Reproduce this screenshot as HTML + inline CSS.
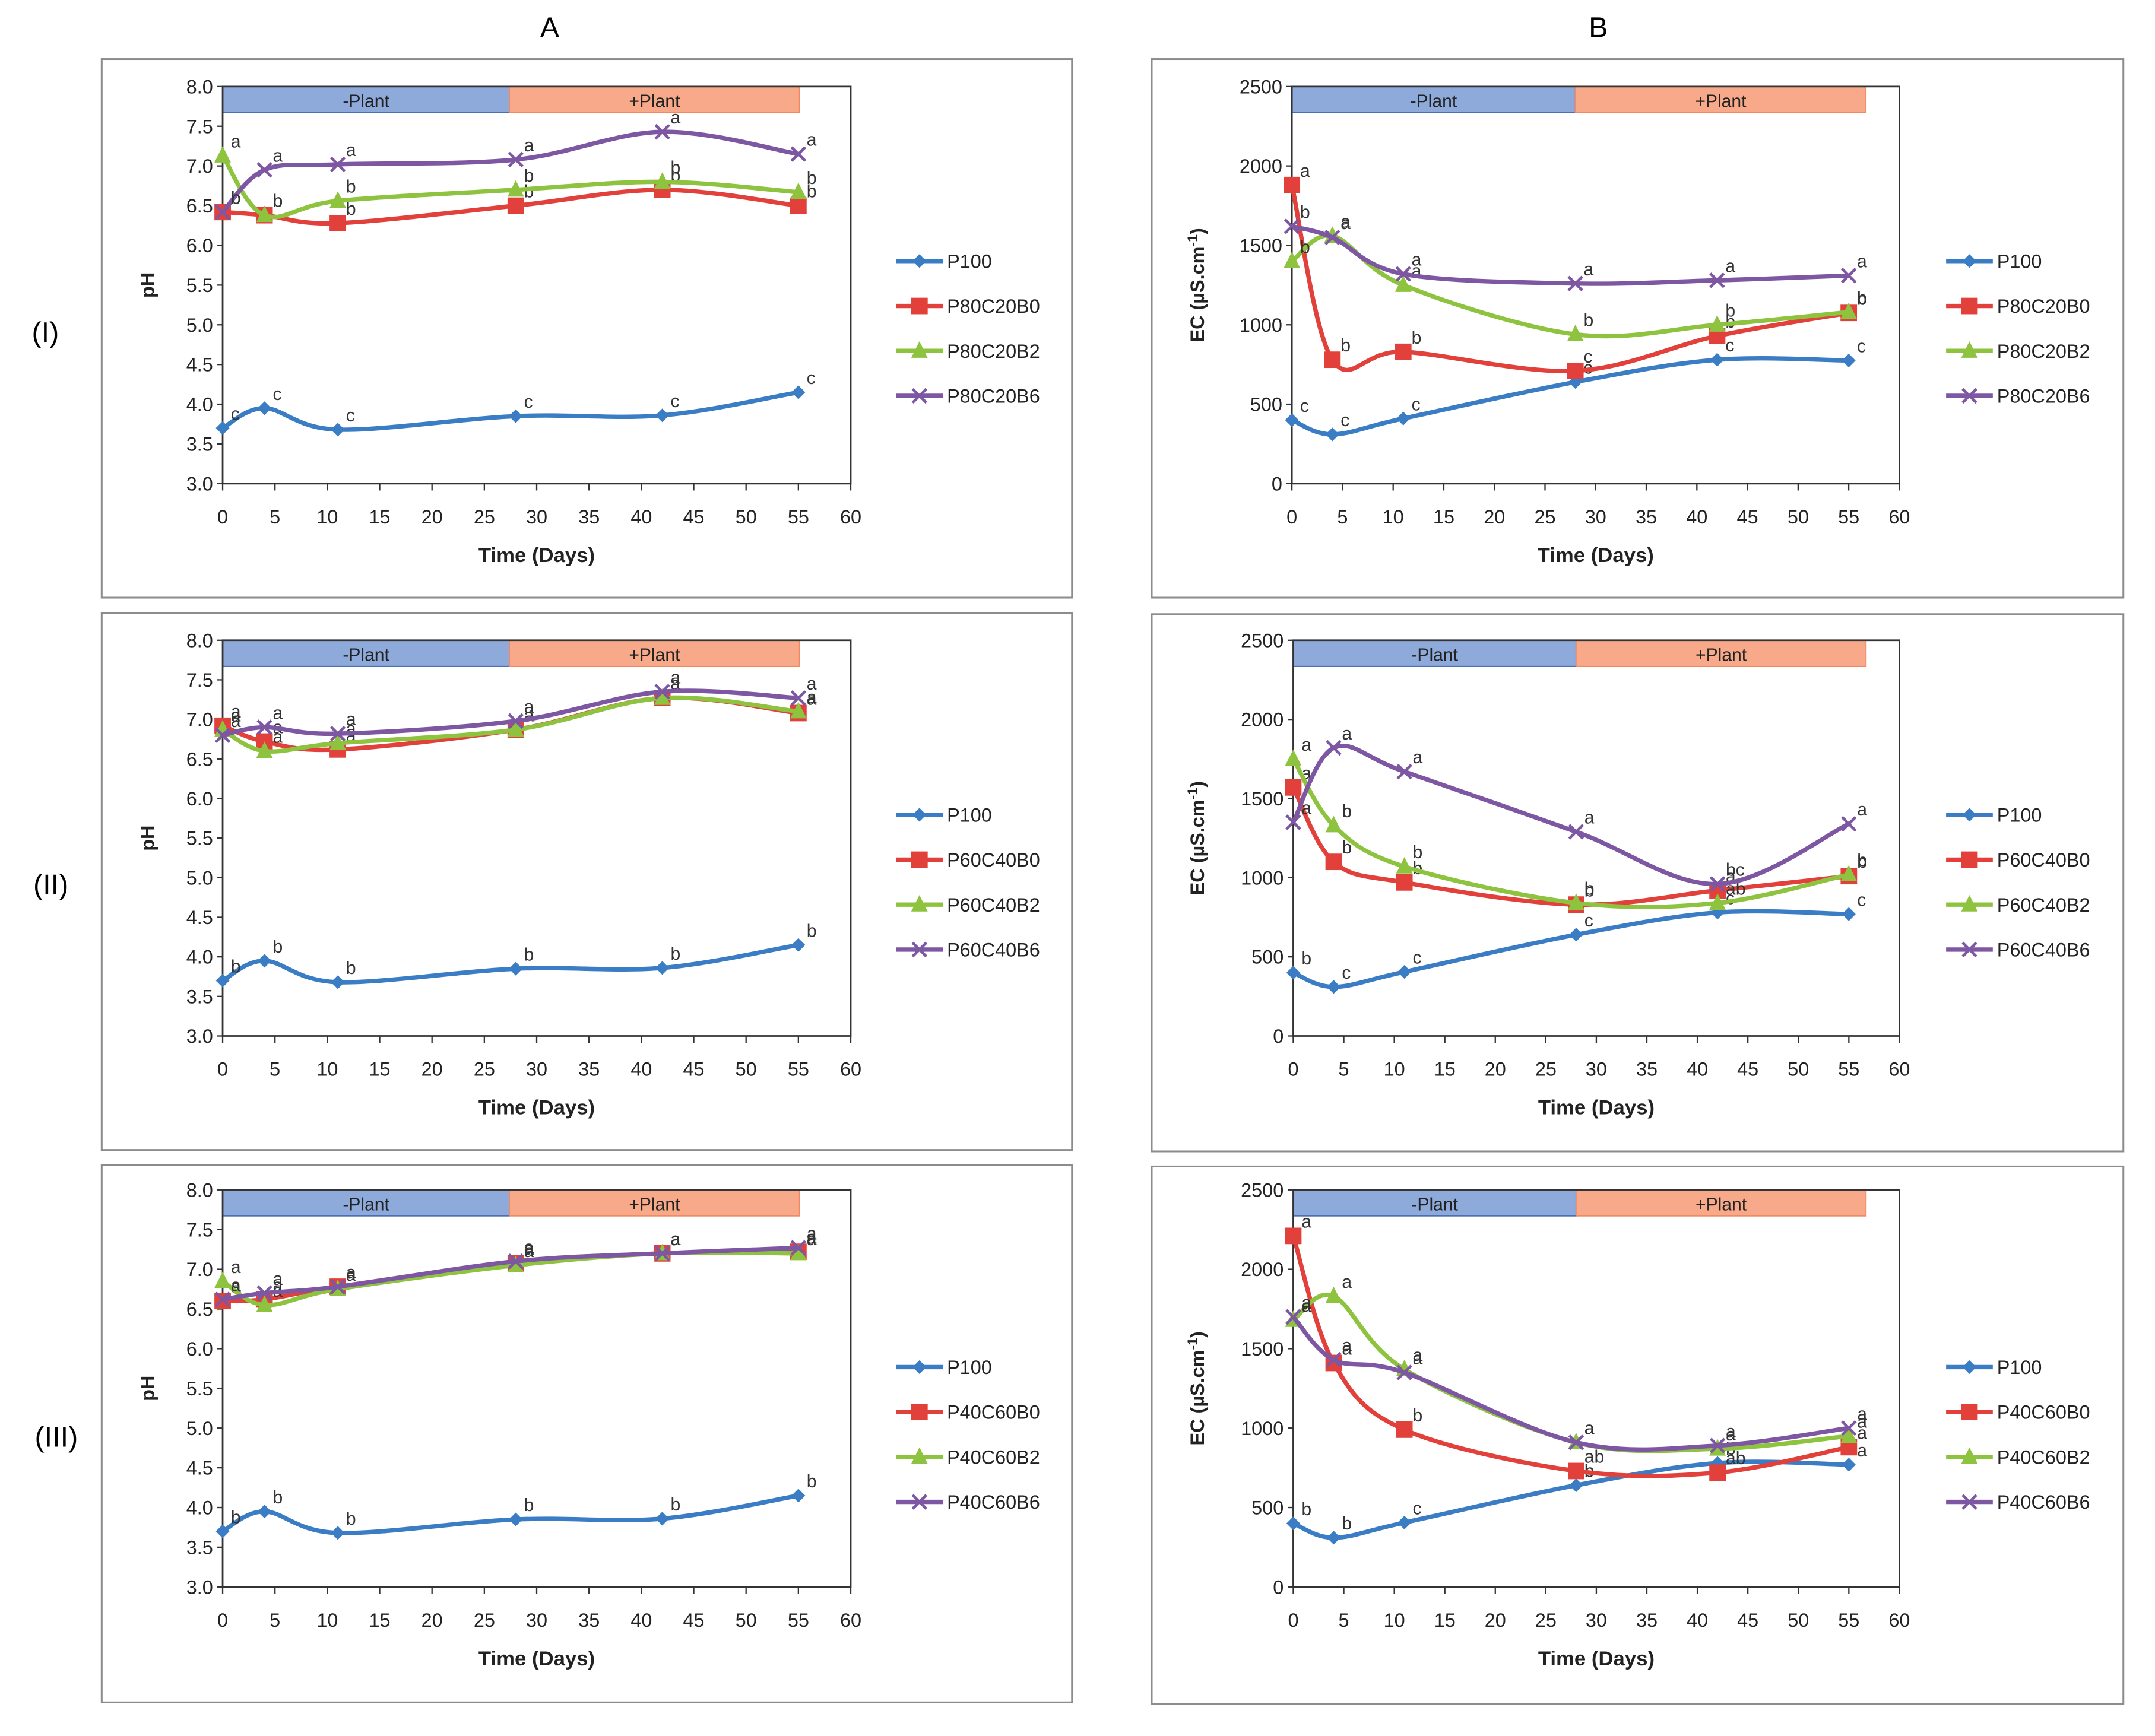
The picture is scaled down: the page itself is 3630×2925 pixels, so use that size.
<!DOCTYPE html>
<html><head><meta charset="utf-8">
<style>
html,body{margin:0;padding:0;background:#fff;}
svg{display:block;font-family:"Liberation Sans",Arial,sans-serif;}
</style></head>
<body>
<svg id="fig" width="3630" height="2925" viewBox="0 0 1568 1263.5" preserveAspectRatio="none" xmlns="http://www.w3.org/2000/svg">
<text x="400" y="27" font-size="21" text-anchor="middle">A</text>
<text x="1163" y="27" font-size="21" text-anchor="middle">B</text>
<text x="33" y="249" font-size="21" text-anchor="middle">(I)</text>
<text x="37" y="651" font-size="21" text-anchor="middle">(II)</text>
<text x="41" y="1053" font-size="21" text-anchor="middle">(III)</text>
</svg>
<script>
const days = [0, 4, 11, 28, 42, 55];
const phTicks = ["3.0","3.5","4.0","4.5","5.0","5.5","6.0","6.5","7.0","7.5","8.0"];
const ecTicks = ["0","500","1000","1500","2000","2500"];
const xTicks = [0,5,10,15,20,25,30,35,40,45,50,55,60];

const aI_P100 = [3.7, 3.95, 3.68, 3.85, 3.86, 4.15];
const aI_B0 = [6.42, 6.38, 6.28, 6.5, 6.7, 6.5];
const aI_B2 = [7.13, 6.38, 6.56, 6.7, 6.8, 6.67];
const aI_B6 = [6.42, 6.95, 7.02, 7.08, 7.43, 7.15];
const bI_P100 = [400, 310, 410, 640, 780, 775];
const bI_B0 = [1880, 780, 830, 710, 930, 1075];
const bI_B2 = [1400, 1560, 1250, 940, 1000, 1080];
const bI_B6 = [1620, 1550, 1320, 1260, 1280, 1310];
const aII_P100 = [3.7, 3.95, 3.68, 3.85, 3.86, 4.15];
const aII_B0 = [6.92, 6.72, 6.62, 6.87, 7.27, 7.08];
const aII_B2 = [6.87, 6.6, 6.7, 6.87, 7.27, 7.1];
const aII_B6 = [6.8, 6.9, 6.82, 6.98, 7.35, 7.27];
const bII_P100 = [400, 310, 405, 640, 780, 770];
const bII_B0 = [1570, 1100, 970, 830, 920, 1010];
const bII_B2 = [1750, 1330, 1070, 840, 840, 1020];
const bII_B6 = [1350, 1820, 1670, 1290, 960, 1340];
const aIII_P100 = [3.7, 3.95, 3.68, 3.85, 3.86, 4.15];
const aIII_B0 = [6.6, 6.62, 6.78, 7.08, 7.2, 7.22];
const aIII_B2 = [6.85, 6.55, 6.75, 7.05, 7.2, 7.2];
const aIII_B6 = [6.62, 6.7, 6.78, 7.1, 7.2, 7.27];
const bIII_P100 = [400, 310, 405, 640, 780, 770];
const bIII_B0 = [2210, 1410, 990, 730, 720, 880];
const bIII_B2 = [1680, 1830, 1370, 910, 870, 950];
const bIII_B6 = [1700, 1430, 1350, 910, 890, 1000];

const aI_letters = [["c","c","c","c","c","c"],["b","b","b","b","b","b"],["a","b","b","b","b","b"],["b","a","a","a","a","a"]];
const bI_letters = [["c","c","c","c","c","c"],["a","b","b","c","b","b"],["b","a","a","b","b","b"],["b","a","a","a","a","a"]];
const aII_letters = [["b","b","b","b","b","b"],["a","a","a","a","a","a"],["a","a","a","a","a","a"],["a","a","a","a","a","a"]];
const bII_letters = [["b","c","c","c","c","c"],["a","b","b","b","a","b"],["a","b","b","b","ab","b"],["a","a","a","a","bc","a"]];
const aIII_letters = [["b","b","b","b","b","b"],["a","a","a","a","a","a"],["a","a","a","a","a","a"],["a","a","a","a","a","a"]];
const bIII_letters = [["b","b","c","b","b","a"],["a","a","b","ab","ab","a"],["a","a","a","a","a","a"],["a","a","a","a","a","a"]];

const NS = "http://www.w3.org/2000/svg";
const svg = document.getElementById("fig");
const colors = ["#3a7dc4","#e2403a","#8dc33f","#7e57a3"];
const markers = ["diamond","square","triangle","x"];

function mk(tag, attrs, parent, txt){
  const e = document.createElementNS(NS, tag);
  for (const k in attrs) e.setAttribute(k, attrs[k]);
  if (txt !== undefined) e.textContent = txt;
  parent.appendChild(e);
  return e;
}
function smoothPath(pts){
  let d = "M" + pts[0][0] + "," + pts[0][1];
  for (let i = 0; i < pts.length - 1; i++){
    const p0 = pts[i-1] || pts[i], p1 = pts[i], p2 = pts[i+1], p3 = pts[i+2] || p2;
    const t = 1/6;
    const c1 = [p1[0] + (p2[0]-p0[0])*t, p1[1] + (p2[1]-p0[1])*t];
    const c2 = [p2[0] - (p3[0]-p1[0])*t, p2[1] - (p3[1]-p1[1])*t];
    d += " C" + c1[0] + "," + c1[1] + " " + c2[0] + "," + c2[1] + " " + p2[0] + "," + p2[1];
  }
  return d;
}
function drawMarker(g, type, x, y, c){
  let m;
  if (type === "diamond") m = mk("polygon", {points:`${x},${y-5} ${x+5},${y} ${x},${y+5} ${x-5},${y}`, fill:c}, g);
  else if (type === "square") m = mk("rect", {x:x-6, y:y-6, width:12, height:12, fill:c}, g);
  else if (type === "triangle") m = mk("polygon", {points:`${x},${y-7} ${x+6},${y+5} ${x-6},${y+5}`, fill:c}, g);
  else m = mk("path", {d:`M${x-5},${y-5}L${x+5},${y+5}M${x-5},${y+5}L${x+5},${y-5}`, stroke:c, "stroke-width":2, fill:"none"}, g);
  
  
  return m;
}

function panel(cfg){
  const g = mk("g", {}, svg);
  
  
  const box = mk("rect", {x:cfg.bx, y:cfg.by, width:cfg.bw, height:cfg.bh, fill:"#fff", stroke:"#8c8c8c", "stroke-width":1.3}, g);
  
  
  const X = d => cfg.x0 + (d/60)*(cfg.x1-cfg.x0);
  const Y = v => cfg.yb + (v-cfg.ymin)/(cfg.ymax-cfg.ymin)*(cfg.yt-cfg.yb);
  const bm = cfg.bandMid, be = cfg.bandEnd;
  const b1 = mk("rect", {x:X(0), y:cfg.yt, width:X(bm)-X(0), height:19, fill:"#8eaadb", stroke:"#4a6fb5", "stroke-width":0.8}, g);
  
  
  const b2 = mk("rect", {x:X(bm), y:cfg.yt, width:X(be)-X(bm), height:19, fill:"#f8a98a", stroke:"#f08a64", "stroke-width":0.8}, g);
  
  
  const t1 = mk("text", {x:(X(0)+X(bm))/2, y:cfg.yt+15, "font-size":13, "text-anchor":"middle", fill:"#222"}, g, "-Plant");
  
  
  const t2 = mk("text", {x:(X(bm)+X(be))/2, y:cfg.yt+15, "font-size":13, "text-anchor":"middle", fill:"#222"}, g, "+Plant");
  
  
  const fr = mk("path", {d:`M${X(0)},${cfg.yt}H${X(60)}V${cfg.yb}H${X(0)}Z`, fill:"none", stroke:"#333", "stroke-width":1.2}, g);
  
  
  cfg.ticks.forEach(t => {
    const v = parseFloat(t), y = Y(v);
    mk("line", {x1:X(0)-4, x2:X(0), y1:y, y2:y, stroke:"#333"}, g);
    const tl = mk("text", {x:X(0)-7, y:y+5, "font-size":14, "text-anchor":"end", fill:"#222"}, g, t);
    
    
  });
  xTicks.forEach(d => {
    mk("line", {x1:X(d), x2:X(d), y1:cfg.yb, y2:cfg.yb+5, stroke:"#333"}, g);
    const tl = mk("text", {x:X(d), y:cfg.yb+29, "font-size":14, "text-anchor":"middle", fill:"#222"}, g, String(d));
    
    
  });
  const xt = mk("text", {x:(X(0)+X(60))/2, y:cfg.yb+57, "font-size":15, "font-weight":"bold", "text-anchor":"middle", fill:"#222"}, g, "Time (Days)");
  
  
  const yc = (cfg.yt+cfg.yb)/2, ylx = cfg.ylx;
  const yt = mk("text", {x:ylx, y:yc, "font-size":14, "font-weight":"bold", "text-anchor":"middle", transform:`rotate(-90 ${ylx} ${yc})`, fill:"#222"}, g);
  if (cfg.ec){ yt.textContent = "EC (µS.cm"; mk("tspan", {"font-size":10, dy:-5}, yt, "-1"); mk("tspan", {dy:5}, yt, ")"); }
  else yt.textContent = "pH";
  
  
  cfg.series.forEach((vals, si) => {
    const pts = vals.map((v,i) => [X(days[i]), Y(v)]);
    const p = mk("path", {d:smoothPath(pts), fill:"none", stroke:colors[si], "stroke-width":3.2}, g);
    
    
    pts.forEach((pt,i) => {
      drawMarker(g, markers[si], pt[0], pt[1], colors[si]);
      const lt = mk("text", {x:pt[0]+6, y:pt[1]-6, "font-size":13, fill:"#333"}, g, cfg.letters[si][i]);
      
      
    });
  });
  cfg.names.forEach((n, si) => {
    const ly = cfg.legy + si*32.7, lx = cfg.legx;
    const lg = mk("g", {}, g);
    
    
    mk("line", {x1:lx, x2:lx+34, y1:ly, y2:ly, stroke:colors[si], "stroke-width":3.2}, lg);
    drawMarker(lg, markers[si], lx+17, ly, colors[si]);
    mk("text", {x:lx+37, y:ly+5, "font-size":14, fill:"#222"}, lg, n);
  });
}

const rowsY = [[43,392,63,352],[446,391,466,754],[848,391,866,1155]];
const names = [["P100","P80C20B0","P80C20B2","P80C20B6"],["P100","P60C40B0","P60C40B2","P60C40B6"],["P100","P40C60B0","P40C60B2","P40C60B6"]];
const aSeries = [[aI_P100,aI_B0,aI_B2,aI_B6],[aII_P100,aII_B0,aII_B2,aII_B6],[aIII_P100,aIII_B0,aIII_B2,aIII_B6]];
const bSeries = [[bI_P100,bI_B0,bI_B2,bI_B6],[bII_P100,bII_B0,bII_B2,bII_B6],[bIII_P100,bIII_B0,bIII_B2,bIII_B6]];
const aLet = [aI_letters,aII_letters,aIII_letters];
const bLet = [bI_letters,bII_letters,bIII_letters];
const rn = ["i","ii","iii"];
for (let r = 0; r < 3; r++){
  const [by,bh,yt,yb] = rowsY[r];
  panel({name:"ph-chart-"+rn[r], bx:74, by:by, bw:706, bh:bh, x0:162, x1:619, yt:yt, yb:yb, ymin:3, ymax:8, ticks:phTicks, ec:false, ylx:112,
    bandMid:27.4, bandEnd:55.1,
    series:aSeries[r], letters:aLet[r], names:names[r], legx:652, legy:by+147});
  panel({name:"ec-chart-"+rn[r], bx:838, by:by+(r===0?0:1), bw:707, bh:bh, x0:940+(r?1:0), x1:1382, yt:yt, yb:yb, ymin:0, ymax:2500, ticks:ecTicks, ec:true, ylx:876,
    bandMid:28.0, bandEnd:56.7,
    series:bSeries[r], letters:bLet[r], names:names[r], legx:1416, legy:by+147});
}
</script>
</body></html>
